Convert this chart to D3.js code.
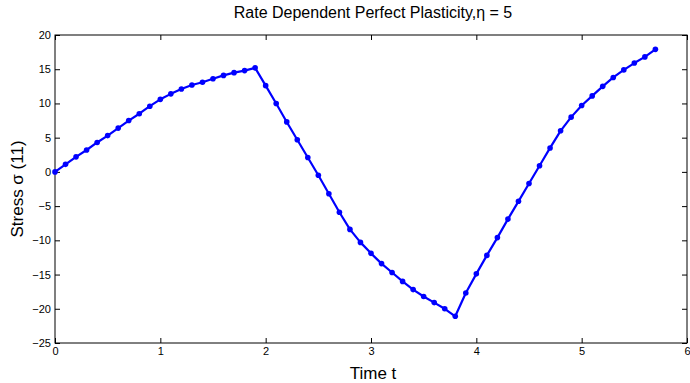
<!DOCTYPE html>
<html>
<head>
<meta charset="utf-8">
<script src="https://cdn.jsdelivr.net/npm/d3@7"></script>
<style>
  body { margin: 0; background: #fff; }
  text { font-family: "Liberation Sans", Arial, sans-serif; }
</style>
</head>
<body>
<div id="chart"></div>
<script>
// time samples (step 0.1)
const times = d3.range(0, 58).map(i => +(i * 0.1).toFixed(1));
// stress values
const stress = [
  0, 1.1, 2.2, 3.2, 4.3, 5.3, 6.4, 7.5, 8.5, 9.6,
  10.6, 11.4, 12.1, 12.7, 13.1, 13.6, 14.1, 14.5, 14.8, 15.2,
  12.6, 10.0, 7.3, 4.7, 2.1, -0.5, -3.2, -5.9, -8.4, -10.3,
  -11.9, -13.4, -14.7, -16.0, -17.2, -18.2, -19.1, -20.0, -21.1,
  -17.7, -14.9, -12.2, -9.6, -6.9, -4.3, -1.7, 0.9, 3.5, 6.0,
  8.0, 9.7, 11.1, 12.5, 13.8, 14.9, 15.9, 16.8, 17.9
];
const xTicks = [0, 1, 2, 3, 4, 5, 6];
const yTicks = [-25, -20, -15, -10, -5, 0, 5, 10, 15, 20];

const W = 690, H = 383;
const margin = {"top":35,"right":3,"bottom":40,"left":55};
const width = W - margin.left - margin.right;
const height = H - margin.top - margin.bottom;

const data = times.map((t, i) => ({t: t, s: stress[i]}));

const xScale = d3.scaleLinear().domain([0, 6]).range([0, width]);
const yScale = d3.scaleLinear().domain([-25, 20]).range([height, 0]);

const svg = d3.select("#chart")
  .append("svg")
  .attr("width", W)
  .attr("height", H)
  .append("g")
  .attr("transform", `translate(${margin.left},${margin.top})`);

// box
svg.append("rect")
  .attr("width", width)
  .attr("height", height)
  .attr("fill", "#fff")
  .attr("stroke", "#000")
  .attr("stroke-width", 1);

const tickLen = 5;
const styleAxis = g => {
  g.select(".domain").remove();
  g.selectAll(".tick line").attr("stroke", "#000");
  g.selectAll(".tick text").attr("font-size", 11).attr("fill", "#000")
    .attr("font-family", "Liberation Sans, Arial, sans-serif");
};

svg.append("g")
  .attr("transform", `translate(0,${height})`)
  .call(d3.axisBottom(xScale).tickValues(xTicks).tickSize(-tickLen).tickPadding(4).tickFormat(d3.format("d")))
  .call(styleAxis);

svg.append("g")
  .call(d3.axisTop(xScale).tickValues(xTicks).tickSize(-tickLen).tickFormat(""))
  .call(styleAxis);

svg.append("g")
  .call(d3.axisLeft(yScale).tickValues(yTicks).tickSize(-tickLen).tickPadding(4).tickFormat(d3.format("d")))
  .call(styleAxis);

svg.append("g")
  .attr("transform", `translate(${width},0)`)
  .call(d3.axisRight(yScale).tickValues(yTicks).tickSize(-tickLen).tickFormat(""))
  .call(styleAxis);

const line = d3.line()
  .x(d => xScale(d.t))
  .y(d => yScale(d.s));

svg.append("path")
  .datum(data)
  .attr("fill", "none")
  .attr("stroke", "#0000ff")
  .attr("stroke-width", 2.2)
  .attr("stroke-linejoin", "round")
  .attr("d", line);

svg.selectAll("circle.pt")
  .data(data)
  .enter()
  .append("circle")
  .attr("class", "pt")
  .attr("cx", d => xScale(d.t))
  .attr("cy", d => yScale(d.s))
  .attr("r", 2.8)
  .attr("fill", "#0000ff");

svg.append("text")
  .attr("x", width / 2 + 2)
  .attr("y", -17)
  .attr("text-anchor", "middle")
  .attr("font-size", 16)
  .text("Rate Dependent Perfect Plasticity,\u03b7 = 5");

svg.append("text")
  .attr("x", width / 2 + 2)
  .attr("y", height + 36)
  .attr("text-anchor", "middle")
  .attr("font-size", 17)
  .text("Time t");

svg.append("text")
  .attr("transform", `translate(${-margin.left + 23},${height / 2})rotate(-90)`)
  .attr("text-anchor", "middle")
  .attr("font-size", 17)
  .text("Stress \u03c3 (11)");
</script>
</body>
</html>
